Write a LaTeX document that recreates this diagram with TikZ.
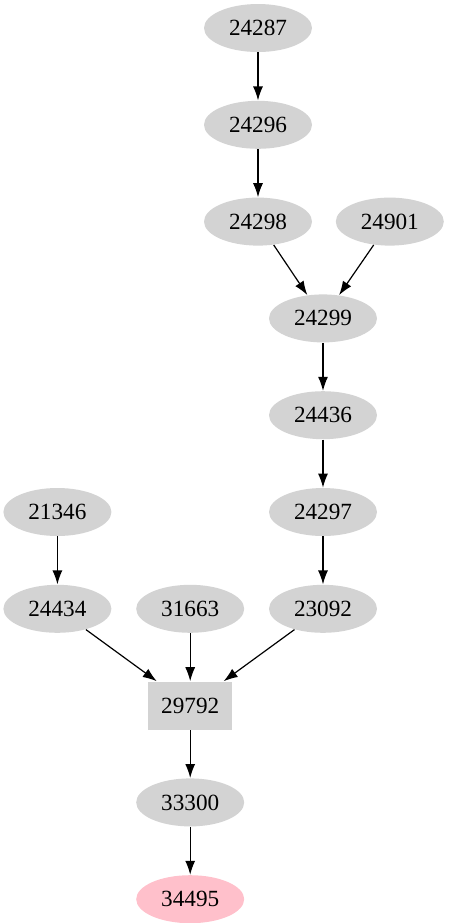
\documentclass[tikz,border=0pt]{standalone}
\usepackage{fontspec}
\setmainfont{Liberation Serif}
\usetikzlibrary{positioning,arrows.meta,shapes.geometric}
\definecolor{nodegrey}{HTML}{D3D3D3}
\definecolor{nodepink}{HTML}{FFC0CB}
\tikzset{
  fig/.style={font=\fontsize{11.6pt}{14pt}\selectfont},
  gnode/.style={ellipse,fill=nodegrey,minimum width=54pt,minimum height=24pt,
                inner sep=0pt},
  gbox/.style={rectangle,fill=nodegrey,minimum width=42pt,minimum height=24pt,
               inner sep=0pt},
  ln/.style={-{Latex[length=7pt,width=5pt]},line width=0.6pt},
}
\begin{document}
\begin{tikzpicture}[fig,node distance=24pt,
  endnode/.style={gnode,fill=nodepink}]

\useasboundingbox (0,0) rectangle (224.5pt,-461.5pt);

\node[gnode] (n24287) at (129pt,-14pt) {24287};
\node[gnode,below=of n24287] (n24296) {24296};
\node[gnode,below=of n24296] (n24298) {24298};
\node[gnode,right=11.5pt of n24298] (n24901) {24901};
\node[gnode,below=of n24298,xshift=32.5pt] (n24299) {24299};
\node[gnode,below=of n24299] (n24436) {24436};
\node[gnode,below=of n24436] (n24297) {24297};
\node[gnode,below=of n24297] (n23092) {23092};
\node[gnode,left=12pt of n23092] (n31663) {31663};
\node[gnode,left=12pt of n31663] (n24434) {24434};
\node[gnode,above=of n24434] (n21346) {21346};
\node[gbox,below=of n31663] (n29792) {29792};
\node[gnode,below=of n29792] (n33300) {33300};
\node[endnode,below=of n33300] (n34495) {34495};

\draw[ln] (n24287) -- (n24296);
\draw[ln] (n24296) -- (n24298);
\draw[ln] (n24298) -- (n24299);
\draw[ln] (n24901) -- (n24299);
\draw[ln] (n24299) -- (n24436);
\draw[ln] (n24436) -- (n24297);
\draw[ln] (n24297) -- (n23092);
\draw[ln] (n21346) -- (n24434);
\draw[ln] (n24434) -- (n29792);
\draw[ln] (n31663) -- (n29792);
\draw[ln] (n23092) -- (n29792);
\draw[ln] (n29792) -- (n33300);
\draw[ln] (n33300) -- (n34495);

\end{tikzpicture}
\end{document}
